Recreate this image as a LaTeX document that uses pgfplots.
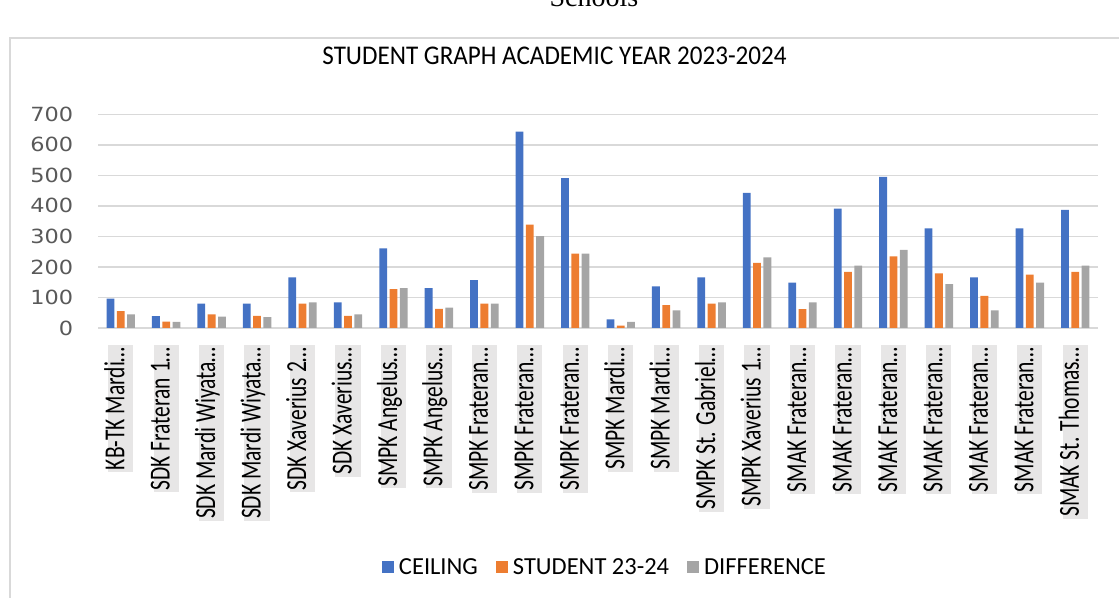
\documentclass[border=0pt]{standalone}
\usepackage{pgfplots}
\usepackage{pgfplotstable}
\pgfplotsset{compat=1.18}
\usepackage{fontspec}
\setmainfont{Carlito}
\newfontfamily\numfont{DejaVu Sans}
\newfontfamily\serifont{Liberation Serif}
\definecolor{cblue}{HTML}{4472C4}
\definecolor{corange}{HTML}{ED7D31}
\definecolor{cgray}{HTML}{A5A5A5}
\definecolor{gridc}{HTML}{D9D9D9}
\definecolor{labbg}{HTML}{E7E6E6}
\definecolor{ticktxt}{HTML}{595959}
\definecolor{framec}{HTML}{D9D9D9}

\pgfplotstableread{
x ceil stud diff
0 96 55 45
1 39 21 20
2 80 45 37
3 80 40 36
4 166 80 84
5 84 40 45
6 261 127 131
7 131 63 67
8 157 80 80
9 643 339 301
10 491 244 244
11 28 8 20
12 136 75 58
13 166 80 84
14 443 213 231
15 149 62 84
16 391 184 204
17 495 235 256
18 326 179 144
19 166 105 58
20 326 175 149
21 387 184 204
}\datatable

\begin{document}
\begin{tikzpicture}
\useasboundingbox (0bp,0bp) rectangle (1119bp,598bp);
\draw[line width=2.5bp, framec] (10bp,-5bp) -- (10bp,560bp) -- (1130bp,560bp);
\node[font=\serifont\fontsize{28bp}{28bp}\selectfont, anchor=base] at (594bp,591bp) {Schools};
\node[font=\fontsize{27bp}{27bp}\selectfont, xscale=0.93, anchor=base] at (554.5bp,533bp) {STUDENT GRAPH ACADEMIC YEAR 2023-2024};
\begin{axis}[
  at={(98bp,270bp)}, anchor=south west,
  scale only axis, width=1000bp, height=213.7bp,
  xmin=-0.5, xmax=21.5, ymin=0, ymax=700,
  ytick={0,100,...,700},
  xtick={0,...,21},
  ymajorgrids, grid style={gridc, line width=1.5bp},
  axis line style={draw=none},
  major tick length=0pt,
  ybar=2.5bp, bar width=7.8bp,
  /pgf/number format/assume math mode=true,
  yticklabel style={font=\numfont\fontsize{19.5bp}{20bp}\selectfont, text=ticktxt, xscale=1.15, anchor=east, xshift=-18bp},
  xticklabels={KB-TK Mardi…, SDK Frateran 1…, SDK Mardi Wiyata…, SDK Mardi Wiyata…, SDK Xaverius 2…, SDK Xaverius…, SMPK Angelus…, SMPK Angelus…, SMPK Frateran…, SMPK Frateran…, SMPK Frateran…, SMPK Mardi…, SMPK Mardi…, SMPK St. Gabriel…, SMPK Xaverius 1…, SMAK Frateran…, SMAK Frateran…, SMAK Frateran…, SMAK Frateran…, SMAK Frateran…, SMAK Frateran…, SMAK St. Thomas…},
  xticklabel style={yshift=-17bp, rotate=90, anchor=east, fill=labbg, inner xsep=2bp, inner ysep=4.5bp, text height=0.75em, text depth=0.22em, font=\fontsize{21.5bp}{21.5bp}\selectfont, yscale=1.35},
  legend style={at={(0.507,-1.118)}, anchor=center, draw=none, legend columns=3, font=\fontsize{24.5bp}{24.5bp}\selectfont, /tikz/every even column/.append style={column sep=16bp}, /tikz/every odd column/.append style={column sep=3bp}},
  legend image code/.code={\fill[#1] (0bp,-6bp) rectangle (12bp,6bp);},
]
\addplot[fill=cblue, draw=none] table[x=x, y=ceil] {\datatable};
\addplot[fill=corange, draw=none] table[x=x, y=stud] {\datatable};
\addplot[fill=cgray, draw=none] table[x=x, y=diff] {\datatable};
\legend{CEILING, STUDENT 23-24, DIFFERENCE}
\end{axis}
\end{tikzpicture}
\end{document}
